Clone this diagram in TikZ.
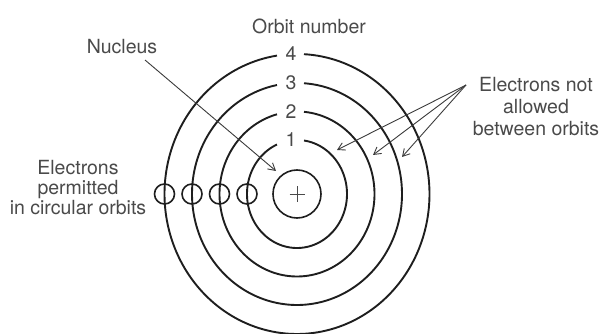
\documentclass[tikz,border=0pt]{standalone}
\usepackage{fontspec}
\setmainfont{TeX Gyre Heros}
\usetikzlibrary{arrows.meta}
\definecolor{txt}{HTML}{4A4A4A}
\definecolor{orb}{HTML}{1E1E1E}
\definecolor{arr}{HTML}{3A3A3A}
\tikzset{
  orbit/.style={draw=orb, line width=1.9pt},
  electron/.style={circle, draw=orb, line width=1.6pt, minimum size=20pt, inner sep=0pt},
  lbl/.style={text=txt, font=\fontsize{19.5}{21}\selectfont, inner sep=0pt},
  ptr/.style={draw=arr, line width=0.9pt, -{Straight Barb[length=7pt,width=8pt,line width=0.9pt]}},
}
\begin{document}
\begin{tikzpicture}[x=1pt,y=-1pt]
\useasboundingbox (0,0) rectangle (600,334);
\coordinate (c) at (297,194);
% orbits: x radius, y radius, label
\foreach \a/\b/\n in {50/54/1, 77.5/82.5/2, 105/111/3, 132.5/140/4}{
  \pgfmathsetmacro{\ts}{360-acos(7/\a)}
  \pgfmathsetmacro{\te}{720-acos(-20/\a)}
  \draw[orbit] plot[domain=\ts:\te, samples=240, smooth] ({297+\a*cos(\x)},{194+\b*sin(\x)});
  \node[lbl] (n\n) at (291,{194-\b}) {\n};
  \node[electron] (e\n) at ({297-\a},194) {};
}
% nucleus
\node[circle, draw=orb, line width=1.6pt, minimum size=48pt, inner sep=0pt] (nuc) at (c) {};
\draw[txt, line width=0.7pt] ([xshift=-7.5pt]c) -- ([xshift=7.5pt]c) ([yshift=-7.5pt]c) -- ([yshift=7.5pt]c);
% labels
\node[lbl] (orbnum) at (309,26) {Orbit number};
\node[lbl] (nucl) at (122,47) {Nucleus};
\node[lbl, align=center] (perm) at (78,188) {Electrons\\[-1pt]permitted\\[-1pt]in circular orbits};
\node[lbl, align=center] (notal) at (536,107) {Electrons not\\[1pt]allowed\\[1pt]between orbits};
% arrows
\coordinate (nstart) at (145,60);
\coordinate (nend) at (276,171);
\draw[ptr] (nstart) -- (nend);
\coordinate (rs) at (466,85);
\coordinate (r1) at (337,150);
\coordinate (r2) at (373,155);
\coordinate (r3) at (402,157);
\draw[ptr] (rs) -- (r1);
\draw[ptr] (rs) -- (r2);
\draw[ptr] (rs) -- (r3);
\end{tikzpicture}
\end{document}
